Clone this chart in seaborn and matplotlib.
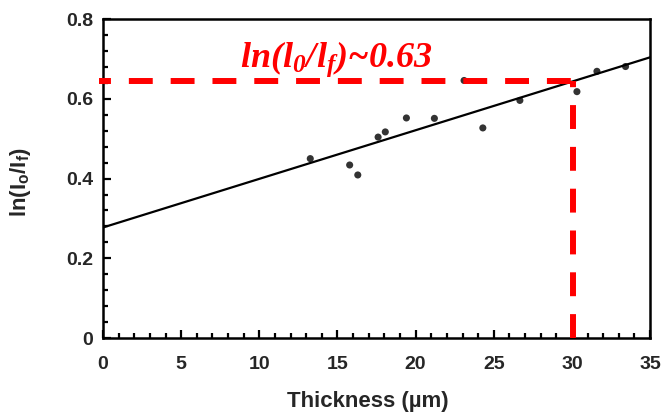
import numpy as np
import pandas as pd
import seaborn as sns
import matplotlib.pyplot as plt
from matplotlib.ticker import MultipleLocator, FuncFormatter

# ============================
# Data
# ============================
thickness = [13.26, 15.78, 16.30, 17.60, 18.06, 19.41, 21.20, 23.10, 24.30, 26.67, 30.32, 31.60, 33.43]
ln_ratio = [0.450, 0.434, 0.409, 0.504, 0.517, 0.552, 0.551, 0.646, 0.527, 0.596, 0.618, 0.669, 0.681]

# red guide lines
guide_x = [-0.26, 30.07]
guide_y = [0.0, 0.644]
guide_label = r"$\mathrm{ln(l_0/l_f)}$~0.63"

df = pd.DataFrame({"thickness": thickness, "ln_ratio": ln_ratio})

# ============================
# Style
# ============================
sns.set_style("white")
plt.rcParams["font.family"] = ["Liberation Sans", "DejaVu Sans"]
plt.rcParams["mathtext.fontset"] = "custom"
plt.rcParams["mathtext.rm"] = "Liberation Serif:bold:italic"
plt.rcParams["mathtext.it"] = "Liberation Serif:bold:italic"
plt.rcParams["mathtext.sf"] = "Liberation Sans:bold"

fig = plt.figure(figsize=(6.62, 4.15), dpi=100)
ax = fig.add_axes([0.1556, 0.1855, 0.982 - 0.1556, 0.954 - 0.1855])

ax.set_xlim(0, 35)
ax.set_ylim(0, 0.8)

# fit line over the whole axis, plus the points
sns.regplot(data=df, x="thickness", y="ln_ratio", ci=None, truncate=False, ax=ax,
            scatter_kws={"s": 26, "color": "black", "edgecolors": "none", "zorder": 3},
            line_kws={"color": "black", "lw": 1.6})

ax.set_xlim(0, 35)
ax.set_ylim(0, 0.8)

# red dashed guides
ax.plot([guide_x[0], guide_x[1]], [guide_y[1], guide_y[1]], color="red", lw=4.3,
        linestyle=(2, (4, 3)), clip_on=False, zorder=4, dash_capstyle="butt")
ax.plot([guide_x[1], guide_x[1]], [guide_y[0], guide_y[1]], color="red", lw=4.3,
        linestyle=(0, (4, 3)), zorder=4, dash_capstyle="butt")
ax.text(8.77, 0.680, guide_label, color="red", fontsize=26, family="Liberation Serif",
        fontweight="bold", fontstyle="italic", ha="left", va="baseline", zorder=5)

# ticks
ax.xaxis.set_major_locator(MultipleLocator(5))
ax.xaxis.set_minor_locator(MultipleLocator(1))
ax.yaxis.set_major_locator(MultipleLocator(0.2))
ax.yaxis.set_minor_locator(MultipleLocator(0.04))
ax.yaxis.set_major_formatter(FuncFormatter(lambda v, p: "0" if abs(v) < 1e-9 else f"{v:.1f}"))
ax.tick_params(which="both", direction="in", color="black", width=1.6,
               top=False, right=False, bottom=True, left=True)
ax.tick_params(which="major", length=6)
ax.tick_params(which="minor", length=3.5)
ax.tick_params(axis="x", which="major", pad=13, labelsize=14)
ax.tick_params(axis="y", which="major", pad=7, labelsize=14)
for lbl in ax.get_xticklabels() + ax.get_yticklabels():
    lbl.set_fontweight("bold")

for sp in ax.spines.values():
    sp.set_color("black")
    sp.set_linewidth(1.8)

ax.set_xlabel("Thickness (µm)", fontsize=16, fontweight="bold")
ax.set_ylabel(r"ln(I$_\mathsf{o}$/I$_\mathsf{f}$)", fontsize=16, fontweight="bold")
ax.xaxis.set_label_coords(0.4835, -0.165)
ax.yaxis.set_label_coords(-0.128, 0.49)

fig.savefig("out.png", dpi=100, facecolor="white")
